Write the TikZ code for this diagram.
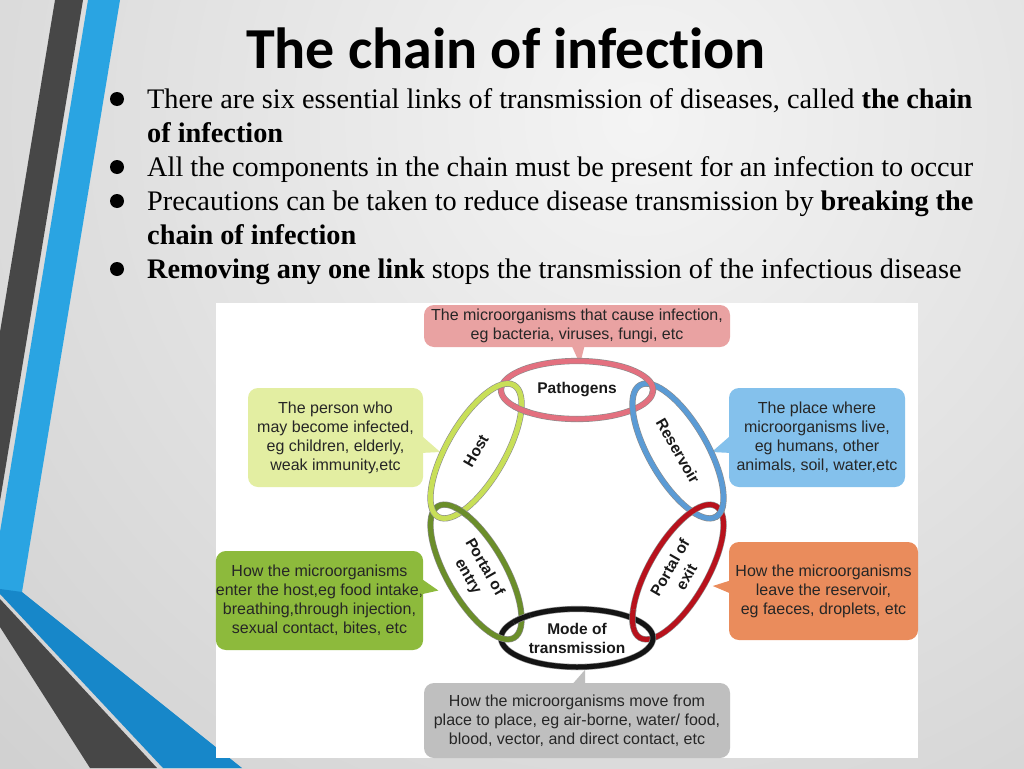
\documentclass[tikz,border=0pt]{standalone}
\usepackage{fontspec}
\setmainfont{Liberation Serif}
\newfontfamily\titlefont[Ligatures=CommonOff]{Carlito}
\newfontfamily\boxfont{Liberation Sans}
\usetikzlibrary{shapes.geometric,intersections}
\definecolor{bgtop}{HTML}{F4F4F4}
\definecolor{bgout}{HTML}{CFCFCF}
\definecolor{stripedark}{HTML}{474747}
\definecolor{stripeblue}{HTML}{2AA4E2}
\definecolor{stripeblue2}{HTML}{1787C9}
\definecolor{pinkfill}{HTML}{E9A2A2}
\definecolor{hostfill}{HTML}{E3EEA2}
\definecolor{resfill}{HTML}{84C1EC}
\definecolor{entfill}{HTML}{8DBA3C}
\definecolor{exitfill}{HTML}{EA8C5C}
\definecolor{modefill}{HTML}{BFBFBF}
\definecolor{pathring}{HTML}{E3707F}
\definecolor{resring}{HTML}{5B9BD5}
\definecolor{exitring}{HTML}{B8121C}
\definecolor{modering}{HTML}{141414}
\definecolor{entring}{HTML}{6B8E2A}
\definecolor{hostring}{HTML}{C8DF58}
\begin{document}
\begin{tikzpicture}[x=1pt,y=-1pt,
  btxt/.style={anchor=base west, inner sep=0pt, font=\fontsize{28.3}{34}\selectfont},
  bulletdot/.style={circle, fill=black, minimum size=14pt, inner sep=0pt},
  callout/.style={rounded corners=10pt, inner sep=0pt, align=center, text=black!85,
    font=\boxfont\fontsize{16}{19}\selectfont},
  ring/.style={ellipse, inner sep=0pt, minimum width=152pt, minimum height=58pt,
    line width=0.6pt, draw=black!45, double distance=5pt, align=center, text=black!90,
    font=\boxfont\bfseries\fontsize{15.5}{19}\selectfont},
]
\useasboundingbox (0,0) rectangle (1024,768);
% background
\begin{scope}
  \clip (0,0) rectangle (1024,768);
  \fill[bgout] (0,0) rectangle (1024,768);
  \shade[inner color=bgtop, outer color=bgout] (640,120) circle (950pt);
  % stripes
  \fill[stripedark] (55,0) -- (83,0) -- (0,501) -- (0,332) -- cycle;
  \fill[stripeblue] (88,0) -- (120,0) -- (22,592) -- (0,593) -- (0,532) -- cycle;
  \fill[stripeblue2] (0,589) -- (22,592) -- (242,768) -- (163,768) -- (0,594) -- cycle;
  \fill[stripedark] (0,599) -- (157,768) -- (90,768) -- (0,627) -- cycle;
\end{scope}
% title
\node[anchor=base, inner sep=0pt, font=\titlefont\bfseries\fontsize{58}{60}\selectfont] (title) at (506,68) {The chain of infection};
% bullets
\node[bulletdot] (b1) at (117,99) {};
\node[bulletdot] (b3) at (117,167) {};
\node[bulletdot] (b4) at (117,201) {};
\node[bulletdot] (b6) at (117,269) {};
\node[btxt] (t1) at (147,108) {There are six essential links of transmission of diseases, called \textbf{the chain}};
\node[btxt] (t2) at (147,142) {\textbf{of infection}};
\node[btxt] (t3) at (147,176) {All the components in the chain must be present for an infection to occur};
\node[btxt] (t4) at (147,210) {Precautions can be taken to reduce disease transmission by \textbf{breaking the}};
\node[btxt] (t5) at (147,244) {\textbf{chain of infection}};
\node[btxt] (t6) at (147,278) {\textbf{Removing any one link} stops the transmission of the infectious disease};
% diagram panel
\fill[white] (216,303) rectangle (918,758);
% callout boxes
\node[callout, fill=pinkfill, minimum width=306pt, minimum height=42pt] (pbox) at (577,326)
  {The microorganisms that cause infection,\\eg bacteria, viruses, fungi, etc};
\node[callout, fill=hostfill, minimum width=175pt, minimum height=99pt] (hbox) at (335.5,437.5)
  {The person who\\may become infected,\\eg children, elderly,\\weak immunity,etc};
\node[callout, fill=resfill, minimum width=176pt, minimum height=99pt] (rbox) at (817,437.5)
  {The place where\\microorganisms live,\\eg humans, other\\animals, soil, water,etc};
\node[callout, fill=entfill, minimum width=207pt, minimum height=99pt] (ebox) at (319.5,600.5)
  {How the microorganisms\\enter the host,eg food intake,\\breathing,through injection,\\sexual contact, bites, etc};
\node[callout, fill=exitfill, minimum width=189pt, minimum height=98pt] (xbox) at (823.5,591)
  {How the microorganisms\\leave the reservoir,\\eg faeces, droplets, etc};
\node[callout, fill=modefill, minimum width=306pt, minimum height=75pt] (mbox) at (577,720.5)
  {How the microorganisms move from\\place to place, eg air-borne, water/ food,\\blood, vector, and direct contact, etc};
% pointers
\fill[pinkfill] ([xshift=-6pt,yshift=3pt]pbox.south) -- ([xshift=8pt,yshift=3pt]pbox.south) -- ([xshift=3pt,yshift=-17pt]pbox.south) -- cycle;
\fill[hostfill] ([xshift=-3pt,yshift=3pt]hbox.east) -- ([xshift=-3pt,yshift=-15.5pt]hbox.east) -- ([xshift=17pt,yshift=-14.5pt]hbox.east) -- cycle;
\fill[resfill] ([xshift=3pt,yshift=3pt]rbox.west) -- ([xshift=3pt,yshift=-15.5pt]rbox.west) -- ([xshift=-17pt,yshift=-14.5pt]rbox.west) -- cycle;
\fill[entfill] ([xshift=-3pt,yshift=22.5pt]ebox.east) -- ([xshift=-3pt,yshift=6pt]ebox.east) -- ([xshift=15pt,yshift=10pt]ebox.east) -- cycle;
\fill[exitfill] ([xshift=3pt,yshift=11pt]xbox.west) -- ([xshift=3pt,yshift=-3pt]xbox.west) -- ([xshift=-16pt,yshift=5pt]xbox.west) -- cycle;
\fill[modefill] ([xshift=-6pt,yshift=-3pt]mbox.north) -- ([xshift=8pt,yshift=-3pt]mbox.north) -- ([xshift=8pt,yshift=13pt]mbox.north) -- cycle;
% chain links
\node[ring, double=pathring, name path=pp] (pat) at (577,390) {Pathogens};
\node[ring, double=resring, rotate=-60, name path=rr] (res) at (678,451) {Reservoir};
\node[ring, double=exitring, rotate=60, name path=xx] (exit) at (678,572) {Portal of\\exit};
\node[ring, double=modering, name path=mm] (mode) at (577,638) {Mode of\\transmission};
\node[ring, double=entring, rotate=-60, name path=ee] (ent) at (476,572) {Portal of\\entry};
\node[ring, double=hostring, rotate=60, name path=hh] (host) at (476,451) {Host};
% interlocking: redraw lower link at one crossing of each pair
\path[name intersections={of=pp and rr, name=ia}];
\begin{scope}\clip (ia-1) circle (9pt);
  \node[ring, double=pathring] (patA) at (pat) {};
\end{scope}
\path[name intersections={of=rr and xx, name=ib}];
\begin{scope}\clip (ib-1) circle (9pt);
  \node[ring, double=resring, rotate=-60] (resA) at (res) {};
\end{scope}
\path[name intersections={of=xx and mm, name=ic}];
\begin{scope}\clip (ic-1) circle (9pt);
  \node[ring, double=exitring, rotate=60] (exitA) at (exit) {};
\end{scope}
\path[name intersections={of=mm and ee, name=id}];
\begin{scope}\clip (id-1) circle (9pt);
  \node[ring, double=modering] (modeA) at (mode) {};
\end{scope}
\path[name intersections={of=ee and hh, name=ie}];
\begin{scope}\clip (ie-1) circle (9pt);
  \node[ring, double=entring, rotate=-60] (entA) at (ent) {};
\end{scope}
\path[name intersections={of=hh and pp, name=if}];
\begin{scope}\clip (if-2) circle (9pt);
  \node[ring, double=pathring] (patB) at (pat) {};
\end{scope}
\end{tikzpicture}
\end{document}
